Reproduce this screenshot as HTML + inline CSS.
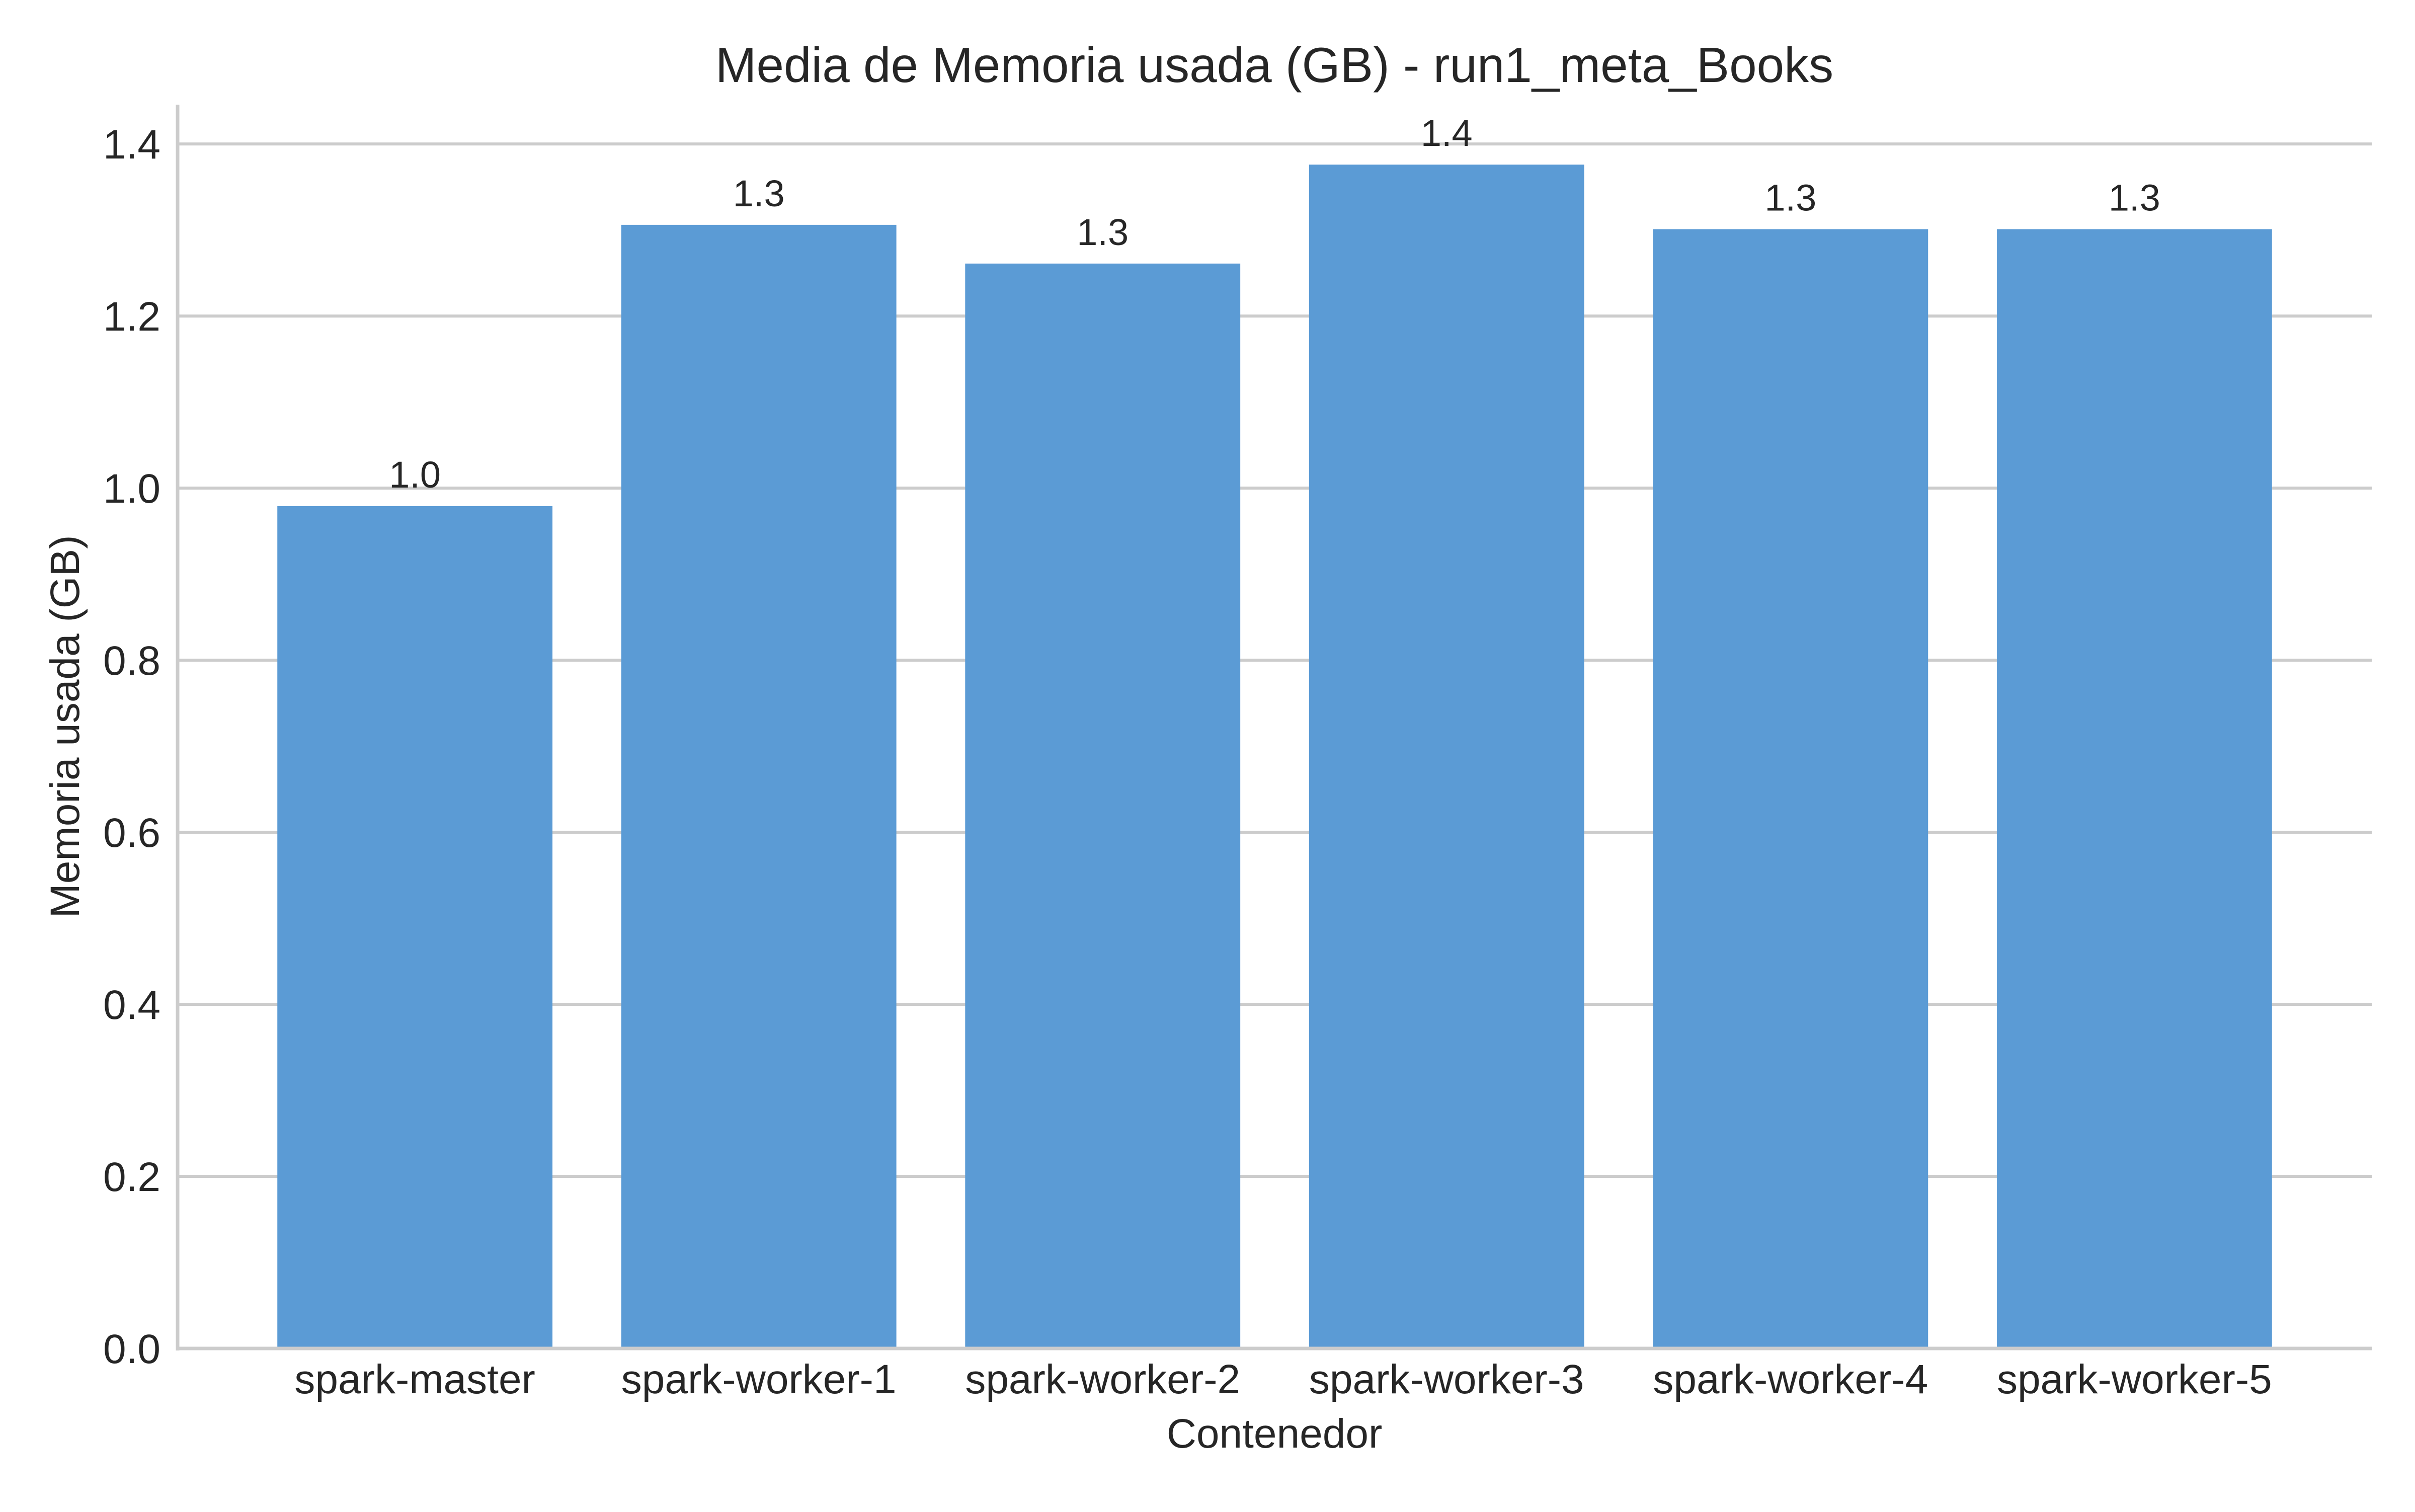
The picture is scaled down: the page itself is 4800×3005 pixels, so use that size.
<!DOCTYPE html>
<html><head><meta charset="utf-8"><style>
html,body{margin:0;padding:0;background:#fff;}
svg text{font-family:"Liberation Sans",Arial,sans-serif;fill:#262626;}
</style></head><body>
<svg id="chart" width="4800" height="3000" xmlns="http://www.w3.org/2000/svg">
<rect width="4800" height="3000" fill="#fff"/>
<g id="grid"></g><g id="bars"></g><g id="labels"></g><g id="axes"></g>
<text x="2533" y="163" font-size="98" text-anchor="middle">Media de Memoria usada (GB) - run1_meta_Books</text>
<text x="2533" y="2877" font-size="82" text-anchor="middle">Contenedor</text>
<text x="0" y="0" font-size="82" text-anchor="middle" transform="translate(157,1444) rotate(-90)">Memoria usada (GB)</text>
</svg>
<script>
const categories = ["spark-master","spark-worker-1","spark-worker-2","spark-worker-3","spark-worker-4","spark-worker-5"];
const values = [0.979, 1.306, 1.261, 1.376, 1.301, 1.301];
const yTicks = [0.0, 0.2, 0.4, 0.6, 0.8, 1.0, 1.2, 1.4];
const NS = "http://www.w3.org/2000/svg";
const L = 353, R = 4714, T = 208, B = 2680;
const xmin = -0.69, xmax = 5.69, ymax = 1.4457;
function xs(v){ return L + (v - xmin) / (xmax - xmin) * (R - L); }
function ys(v){ return B - v / ymax * (B - T); }
function mk(tag, attrs, parent){ const e = document.createElementNS(NS, tag); for (const k in attrs) e.setAttribute(k, attrs[k]); parent.appendChild(e); return e; }
const grid = document.getElementById('grid'), bars = document.getElementById('bars'), labels = document.getElementById('labels'), axes = document.getElementById('axes');
yTicks.forEach(t => {
  const y = ys(t);
  if (t > 0) {
    const g = mk('line', {x1: L, x2: R, y1: y, y2: y, stroke: '#cccccc', 'stroke-width': 6}, grid);
    
    
  }
  const tl = mk('text', {x: 319, y: y + 29, 'font-size': 82, 'text-anchor': 'end'}, axes);
  tl.textContent = t.toFixed(1);
  
  
});
const unit = (R - L) / (xmax - xmin);
categories.forEach((c, i) => {
  const cx = xs(i), w = 0.8 * unit, top = ys(values[i]);
  const r = mk('rect', {x: cx - w / 2, y: top, width: w, height: B - top, fill: '#5b9bd5'}, bars);
  
  
  const vl = mk('text', {x: cx, y: top - 37, 'font-size': 74, 'text-anchor': 'middle'}, labels);
  vl.textContent = values[i].toFixed(1);
  
  
  const xl = mk('text', {x: cx, y: 2769, 'font-size': 82, 'text-anchor': 'middle'}, axes);
  xl.textContent = c;
  
  
});
const ls = mk('line', {x1: L, x2: L, y1: T, y2: B + 4, stroke: '#cccccc', 'stroke-width': 7}, axes);


const bs = mk('line', {x1: L - 3, x2: R, y1: B, y2: B, stroke: '#cccccc', 'stroke-width': 7}, axes);


</script>
</body></html>
